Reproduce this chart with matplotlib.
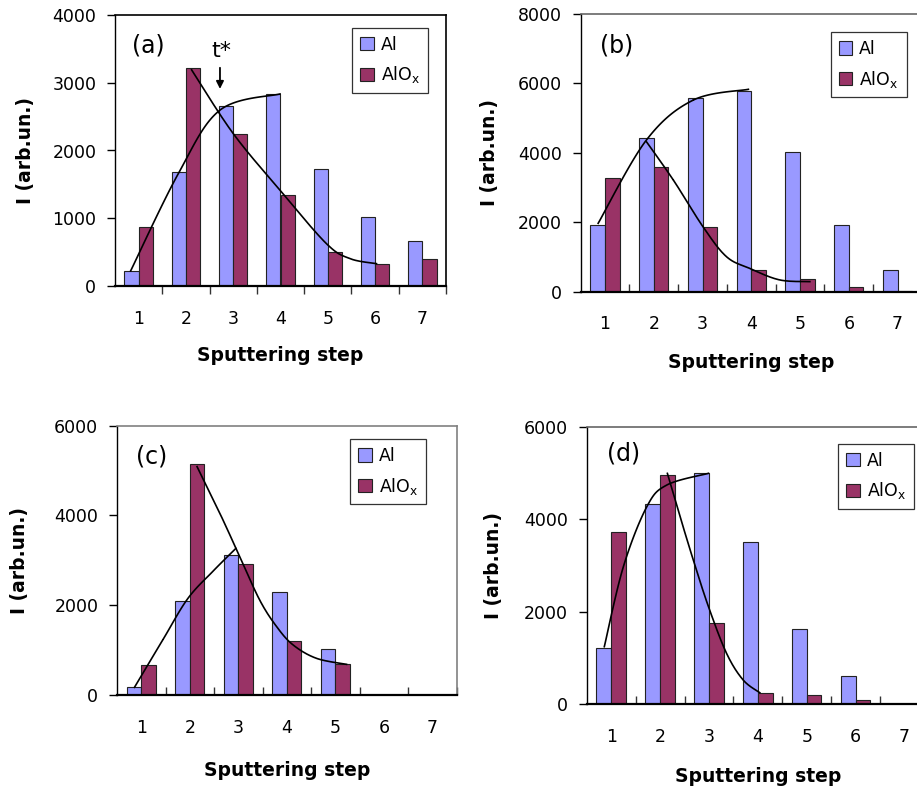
import numpy as np
import matplotlib.pyplot as plt

W, H = 917, 791

steps = [1, 2, 3, 4, 5, 6, 7]

# bar heights
al_a = [222, 1680, 2660, 2837, 1729, 1015, 670]
alox_a = [872, 3222, 2241, 1350, 507, 330, 404]
al_b = [1921, 4418, 5570, 5791, 4034, 1921, 624]
alox_b = [3285, 3601, 1873, 624, 355, 134, 30]
al_c = [171, 2087, 3119, 2295, 1032, 0, 0]
alox_c = [661, 5146, 2926, 1203, 683, 0, 0]
al_d = [1204, 4327, 4990, 3505, 1630, 599, 0]
alox_d = [3714, 4954, 1760, 231, 202, 94, 0]

# points the hand-drawn guide curves pass through
fit_al_a_x = [0.83, 1.84, 2.72, 3.99]
fit_al_a_y = [222, 1660, 2596, 2835]
fit_alox_a_x = [2.12, 3.0, 3.99, 4.97, 5.47, 6.03]
fit_alox_a_y = [3190, 2250, 1414, 626, 404, 330]

fit_al_b_x = [0.86, 1.85, 2.81, 3.94]
fit_al_b_y = [1970, 4370, 5520, 5830]
fit_alox_b_x = [1.85, 2.40, 3.01, 3.49, 3.97, 4.58, 5.20]
fit_alox_b_y = [4320, 3220, 1870, 1010, 670, 340, 290]

fit_al_c_x = [0.86, 1.45, 1.96, 2.48, 2.95]
fit_al_c_y = [171, 1240, 2150, 2760, 3267]
fit_alox_c_x = [2.15, 2.62, 3.03, 3.44, 3.79, 4.13, 4.61, 5.23]
fit_alox_c_y = [5087, 4047, 3082, 2116, 1522, 1114, 817, 683]

fit_al_d_x = [0.86, 1.25, 1.73, 2.14, 2.99]
fit_al_d_y = [1240, 2971, 4270, 4739, 4991]
fit_alox_d_x = [2.15, 2.41, 2.68, 2.99, 3.36, 3.70, 4.04]
fit_alox_d_y = [4990, 4053, 3115, 2106, 1096, 519, 245]

al_col = '#9999FF'
alox_col = '#993366'

# t* marker in panel (a)
tstar_x = 2.72
tstar_top = 3262
tstar_tip = 2868
tstar_text_y = 3476


def smooth(xs, ys, n=30):
    # Catmull-Rom through the points, like a smoothed Excel line
    p = np.column_stack([xs, ys]).astype(float)
    p = np.vstack([p[0], p, p[-1]])
    t = np.linspace(0, 1, n)[:, None]
    out = []
    for i in range(1, len(p) - 2):
        p0, p1, p2, p3 = p[i - 1], p[i], p[i + 1], p[i + 2]
        seg = 0.5 * (2 * p1 + (-p0 + p2) * t
                     + (2 * p0 - 5 * p1 + 4 * p2 - p3) * t ** 2
                     + (-p0 + 3 * p1 - 3 * p2 + p3) * t ** 3)
        out.append(seg)
    out = np.vstack(out)
    return out[:, 0], out[:, 1]


fig = plt.figure(figsize=(W / 100, H / 100), dpi=100)


def panel(box, al, alox, fits, ymax, ystep, tag, tag_px, leg_px,
          frame_col, xtick_dir, xlab_off, ylab_off):
    l, t, r, b = box
    ax = fig.add_axes([l / W, 1 - b / H, (r - l) / W, (b - t) / H])
    x = np.array(steps)
    ax.bar(x - 0.15, al, 0.3, color=al_col, edgecolor='#222222', lw=0.8,
           label='Al', zorder=2)
    ax.bar(x + 0.15, alox, 0.3, color=alox_col, edgecolor='#222222', lw=0.8,
           label='AlO$_{\\rm x}$', zorder=2)
    for fx, fy in fits:
        sx, sy = smooth(fx, fy)
        ax.plot(sx, sy, color='black', lw=1.2, zorder=3)

    ax.set_xlim(0.5, 7.5)
    ax.set_ylim(0, ymax)
    ax.set_xticks(steps)
    ax.set_xticks(np.arange(1.5, 8, 1), minor=True)
    ax.set_yticks(np.arange(0, ymax + 1, ystep))
    ax.tick_params(axis='x', which='major', length=0, pad=17, labelsize=12.5)
    ax.tick_params(axis='x', which='minor', length=5.8, width=1,
                   direction=xtick_dir, color='#333333')
    ax.tick_params(axis='y', length=5.5, width=1, direction='out', pad=8,
                   labelsize=12.5)

    ax.spines['left'].set_linewidth(1.0)
    ax.spines['bottom'].set_linewidth(1.6)
    ax.spines['bottom'].set_zorder(4)
    for s in ['top', 'right']:
        ax.spines[s].set_color(frame_col)
        ax.spines[s].set_linewidth(1.2)

    w_px, h_px = r - l, b - t
    ax.text((tag_px[0] - l) / w_px, (b - tag_px[1]) / h_px, tag,
            transform=ax.transAxes, ha='center', va='center', fontsize=17)
    ax.text(0.5, -xlab_off / h_px, 'Sputtering step', transform=ax.transAxes,
            ha='center', va='center', fontsize=13.5, fontweight='bold')
    ax.text(-ylab_off / w_px, 0.5, 'I (arb.un.)', transform=ax.transAxes,
            rotation=90, ha='center', va='center', fontsize=13.5,
            fontweight='bold')

    leg = ax.legend(loc='upper left',
                    bbox_to_anchor=((leg_px[0] - l) / w_px, (b - leg_px[1]) / h_px),
                    borderaxespad=0, fancybox=False, edgecolor='#333333',
                    framealpha=1, fontsize=12.5, handlelength=0.8,
                    handleheight=0.8, handletextpad=0.4, labelspacing=0.6,
                    borderpad=0.45)
    leg.get_frame().set_linewidth(0.9)
    return ax


ax_a = panel((115, 15, 446, 286), al_a, alox_a,
             [(fit_al_a_x, fit_al_a_y), (fit_alox_a_x, fit_alox_a_y)],
             4000, 1000, '(a)', (148, 45), (352, 28), 'black', 'out', 70, 89)
ax_a.annotate('', xy=(tstar_x, tstar_tip), xytext=(tstar_x, tstar_top),
              arrowprops=dict(arrowstyle='-|>', color='black', lw=1.3,
                              mutation_scale=11), zorder=5)
ax_a.text(tstar_x + 0.04, tstar_text_y, 't*', ha='center', va='center',
          fontsize=16)

panel((580.6, 14, 922, 291.7), al_b, alox_b,
      [(fit_al_b_x, fit_al_b_y), (fit_alox_b_x, fit_alox_b_y)],
      8000, 2000, '(b)', (616.7, 45), (830.7, 32.3), '#666666', 'in', 71, 91)

panel((117, 425.7, 456.7, 695), al_c, alox_c,
      [(fit_al_c_x, fit_al_c_y), (fit_alox_c_x, fit_alox_c_y)],
      6000, 2000, '(c)', (151.7, 456.7), (350, 439.3), '#808080', 'in', 75, 97)

panel((586.7, 426.7, 929, 704), al_d, alox_d,
      [(fit_al_d_x, fit_al_d_y), (fit_alox_d_x, fit_alox_d_y)],
      6000, 2000, '(d)', (623.3, 453.3), (838.3, 444), '#666666', 'in', 72.7, 93)

fig.savefig('out.png', dpi=100)
